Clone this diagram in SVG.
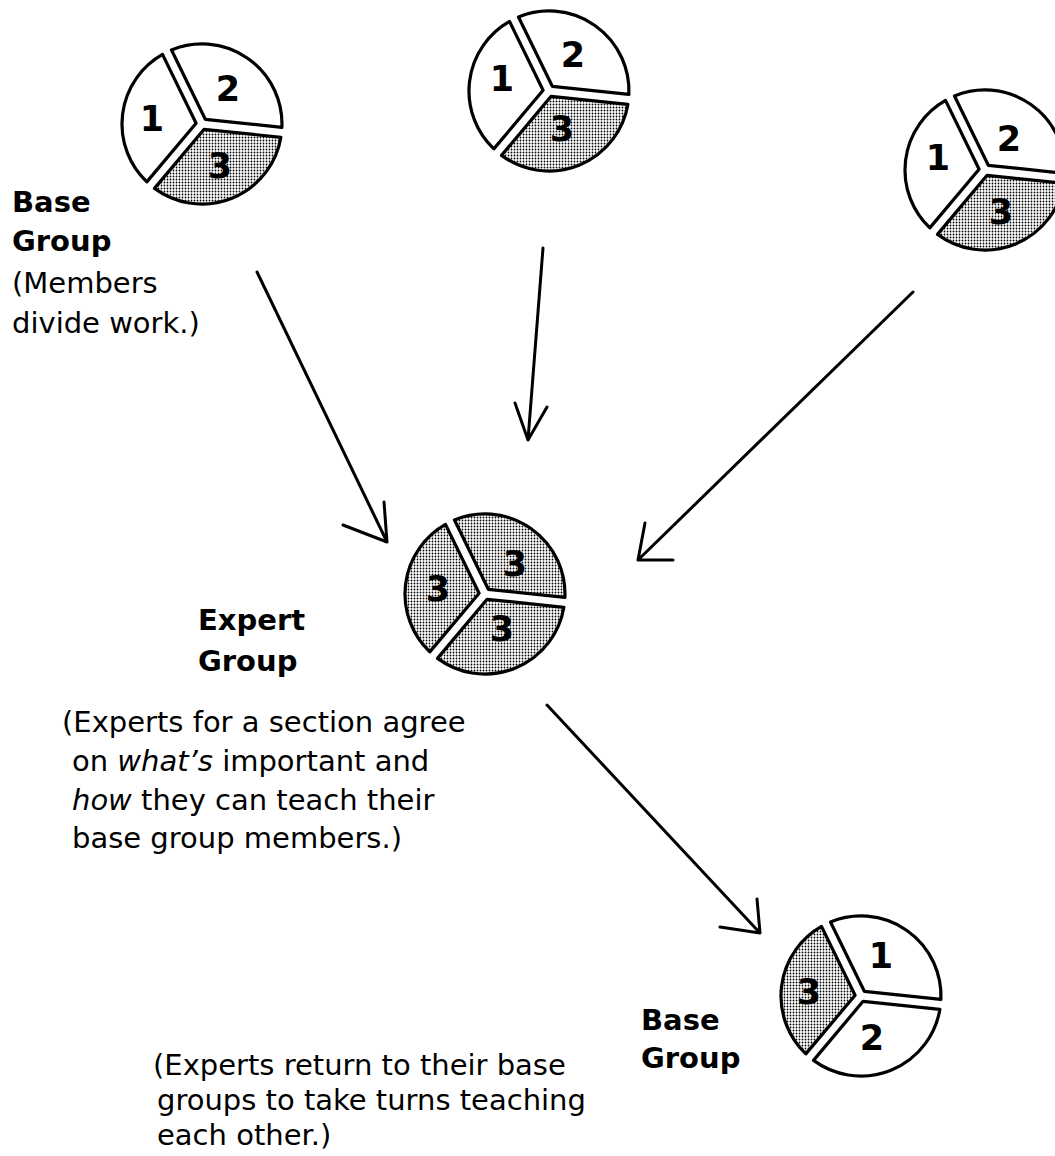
<svg xmlns="http://www.w3.org/2000/svg" xmlns:xlink="http://www.w3.org/1999/xlink" width="1055" height="1156" viewBox="0 0 1055 1156">
<style>
  .txt { font-family: "DejaVu Sans", "Liberation Sans", sans-serif; font-size: 29px; fill: #000; }
  .b { font-weight: bold; }
  .num { font-family: "DejaVu Sans", "Liberation Sans", sans-serif; font-size: 35px; font-weight: bold; text-anchor: middle; fill: #000; }
  use.plain { fill: #fff; }
  use.shade { fill: url(#dots); }
</style>
<defs>
  <pattern id="dots" width="3" height="3" patternUnits="userSpaceOnUse">
    <rect width="3" height="3" fill="#fff"/>
    <circle cx="1.5" cy="1.5" r="0.9" fill="#000"/>
  </pattern>
  <path id="secL" d="M-5.9,-0.7 L-55.2,57.9 A80,80 0 0 1 -39.5,-69.6 Z" stroke="#000" stroke-width="3.2" stroke-linejoin="round"/>
  <path id="secT" d="M3.3,-4.7 L-30.5,-74 A80,80 0 0 1 79.9,3.4 Z" stroke="#000" stroke-width="3.2" stroke-linejoin="round"/>
  <path id="secB" d="M2.1,5.3 L78.9,13.3 A80,80 0 0 1 -47.5,64.4 Z" stroke="#000" stroke-width="3.2" stroke-linejoin="round"/>
</defs>
<rect width="1055" height="1156" fill="#fff"/>

<g id="connectors" fill="none" stroke="#000" stroke-width="3" stroke-linecap="round" stroke-linejoin="round">
  <path d="M257,272 L387,542 M384,502 L387,542 L343,525"/>
  <path d="M543,248 L528,440 M515,403 L528,440 L547,407"/>
  <path d="M913,292 L638,560 M645,523 L638,560 L673,560"/>
  <path d="M547,705 L760,933 M757,899 L760,933 L720,927"/>
</g>

<g id="pie-base-1" transform="translate(202,124)">
  <use href="#secL" class="plain"/>
  <use href="#secT" class="plain"/>
  <use href="#secB" class="shade"/>
  <text class="num" x="-50" y="6.5">1</text>
  <text class="num" x="26" y="-23.5">2</text>
  <text class="num" x="18" y="53.5">3</text>
</g>

<g id="pie-base-2" transform="translate(549,91)">
  <use href="#secL" class="plain"/>
  <use href="#secT" class="plain"/>
  <use href="#secB" class="shade"/>
  <text class="num" x="-47" y="-0.5">1</text>
  <text class="num" x="24" y="-24.5">2</text>
  <text class="num" x="13" y="49.5">3</text>
</g>

<g id="pie-base-3" transform="translate(985,170)">
  <use href="#secL" class="plain"/>
  <use href="#secT" class="plain"/>
  <use href="#secB" class="shade"/>
  <text class="num" x="-47" y="-0.5">1</text>
  <text class="num" x="24" y="-19.5">2</text>
  <text class="num" x="16" y="53.5">3</text>
</g>

<g id="pie-expert" transform="translate(485,594)">
  <use href="#secL" class="shade"/>
  <use href="#secT" class="shade"/>
  <use href="#secB" class="shade"/>
  <text class="num" x="-47" y="6.5">3</text>
  <text class="num" x="30" y="-18.5">3</text>
  <text class="num" x="17" y="46.5">3</text>
</g>

<g id="pie-base-return" transform="translate(861,996)">
  <use href="#secL" class="shade"/>
  <use href="#secT" class="plain"/>
  <use href="#secB" class="plain"/>
  <text class="num" x="-52" y="7.5">3</text>
  <text class="num" x="20" y="-28.5">1</text>
  <text class="num" x="11" y="53.5">2</text>
</g>

<g id="label-base-top" class="txt">
  <text class="b" x="12" y="212">Base</text>
  <text class="b" x="12" y="251">Group</text>
  <text x="12" y="293">(Members</text>
  <text x="12" y="333">divide work.)</text>
</g>

<g id="label-expert" class="txt">
  <text class="b" x="198" y="630">Expert</text>
  <text class="b" x="198" y="671">Group</text>
</g>

<g id="text-expert" class="txt">
  <text x="62" y="732">(Experts for a section agree</text>
  <text x="72" y="771">on <tspan font-style="italic">what’s</tspan> important and</text>
  <text x="72" y="810"><tspan font-style="italic">how</tspan> they can teach their</text>
  <text x="72" y="848">base group members.)</text>
</g>

<g id="label-base-bottom" class="txt">
  <text class="b" x="641" y="1030">Base</text>
  <text class="b" x="641" y="1068">Group</text>
</g>

<g id="text-return" class="txt">
  <text x="153" y="1075">(Experts return to their base</text>
  <text x="157" y="1110">groups to take turns teaching</text>
  <text x="157" y="1145">each other.)</text>
</g>
</svg>
